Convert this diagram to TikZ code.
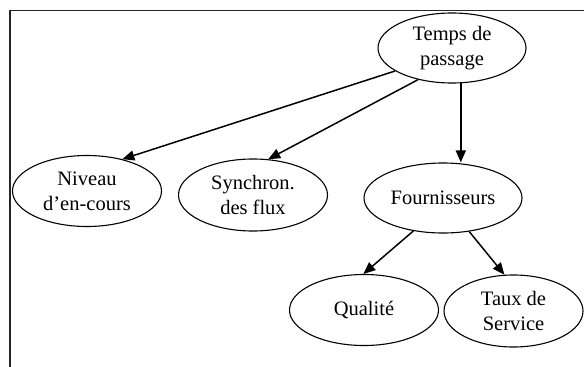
\documentclass[tikz,border=0pt]{standalone}
\usepackage{fontspec}
\setmainfont{Liberation Serif}
\usetikzlibrary{shapes.geometric,arrows.meta}
\tikzset{
  ell/.style={draw, ellipse, line width=1.1pt, inner sep=0pt, align=center,
    font=\fontsize{20.5}{25}\selectfont},
  arr/.style={line width=1.5pt, -{Triangle[length=12pt,width=10pt]}},
  frame/.style={line width=1.1pt, draw=black!85}
}
\begin{document}
\begin{tikzpicture}[x=1pt,y=-1pt]
\useasboundingbox (0,0) rectangle (584,367);
\coordinate (fa) at (10,367);
\coordinate (fb) at (10,10.5);
\coordinate (fc) at (584,10.5);
\draw[frame] (fa) -- (fb) -- (fc);
\node[ell, minimum width=148pt, minimum height=70pt] (temps) at (452,48) {Temps de\\passage};
\node[ell, minimum width=149pt, minimum height=71pt] (niveau) at (87,191) {Niveau\\d’en-cours};
\node[ell, minimum width=149pt, minimum height=72pt] (sync) at (253,195) {Synchron.\\des flux};
\node[ell, minimum width=158pt, minimum height=70pt] (fourn) at (443,198) {Fournisseurs};
\node[ell, minimum width=149pt, minimum height=71pt] (qual) at (364,310) {Qualité};
\node[ell, minimum width=139pt, minimum height=72pt] (taux) at (513.5,311) {Taux de\\Service};
\draw[arr] (temps.202) -- (niveau.42);
\draw[arr] (temps.223) -- (sync.67);
\draw[arr] (temps.284) -- (temps.284 |- fourn.north);
\draw[arr] (fourn.228) -- (qual.91);
\draw[arr] (fourn.308) -- (taux.104);
\end{tikzpicture}
\end{document}
